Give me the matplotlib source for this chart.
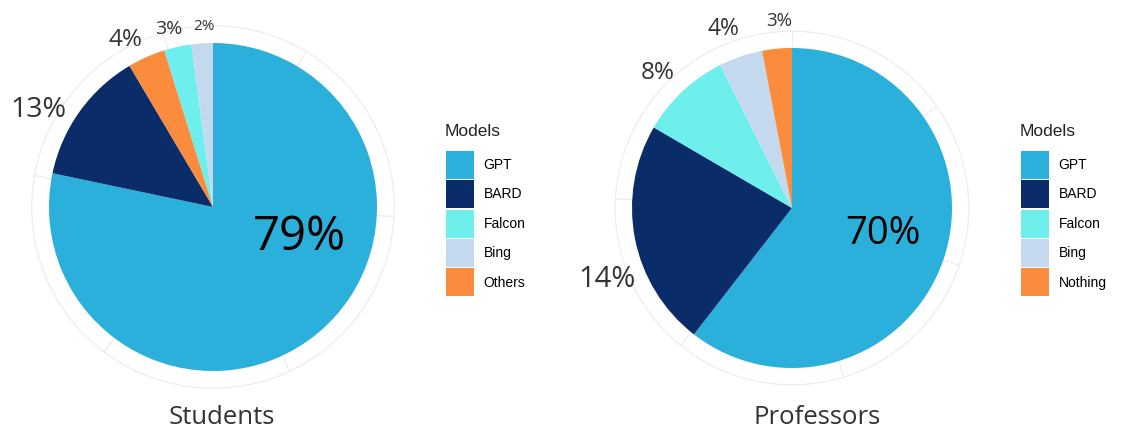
import matplotlib.pyplot as plt
import numpy as np
from matplotlib.patches import Patch, Circle

# Legend order and colours
models_students = ['GPT', 'BARD', 'Falcon', 'Bing', 'Others']
models_profs = ['GPT', 'BARD', 'Falcon', 'Bing', 'Nothing']
model_colors = ['#2BB0DC', '#0A2D69', '#6EEEEC', '#C5D9EE', '#FB8B3D']

# Slices clockwise from 12 o'clock (shares as drawn in the picture)
students_order = ['GPT', 'BARD', 'Others', 'Falcon', 'Bing']
students_share = [78.3, 13.2, 3.7, 2.7, 2.1]
students_labels = ['79%', '13%', '4%', '3%', '2%']

profs_order = ['GPT', 'BARD', 'Falcon', 'Bing', 'Nothing']
profs_share = [60.5, 22.9, 9.2, 4.4, 3.0]
profs_labels = ['70%', '14%', '8%', '4%', '3%']

W, H = 1121, 432
fig = plt.figure(figsize=(W / 100, H / 100), dpi=100)
fig.patch.set_facecolor('white')

LIM = 1.35


def add_pie(cx, cy, R, order, shares, labels, lab_pos, lab_sizes, grid_angles,
            legend_names, legend_x, title, title_x):
    size = 2 * LIM * R
    ax = fig.add_axes([(cx - size / 2) / W, (H - cy - size / 2) / H, size / W, size / H])
    cmap = dict(zip(legend_names, model_colors))
    ax.pie(shares, colors=[cmap[m] for m in order], startangle=90,
           counterclock=False, radius=1.0, wedgeprops=dict(linewidth=0))
    ax.set_xlim(-LIM, LIM)
    ax.set_ylim(-LIM, LIM)
    ax.axis('off')
    # faint polar grid outside the pie
    ax.add_patch(Circle((0, 0), 1.105, fill=False, ec='#ededed', lw=0.9, zorder=0))
    for a in np.radians(grid_angles):
        ax.plot([np.sin(a), 1.105 * np.sin(a)], [np.cos(a), 1.105 * np.cos(a)],
                color='#ededed', lw=0.9, zorder=0)
    for lab, (ang, r), fs in zip(labels, lab_pos, lab_sizes):
        a = np.radians(ang)
        col = 'black' if r < 1 else '#333333'
        ax.text(r * np.sin(a), r * np.cos(a), lab, ha='center', va='center',
                fontsize=fs, family='Open Sans', color=col)
    # legend
    fig.text(legend_x / W, 1 - 132 / H, 'Models', family='Liberation Sans',
             fontsize=12.5, color='#222222', ha='left', va='center')
    handles = [Patch(facecolor=c, edgecolor='none') for c in model_colors]
    fig.legend(handles, legend_names, loc='upper left',
               bbox_to_anchor=((legend_x + 1) / W, 1 - 151 / H),
               frameon=False, borderpad=0, borderaxespad=0,
               handlelength=2.0, handleheight=2.72, labelspacing=0.1,
               handletextpad=0.7,
               prop={'family': 'Liberation Sans', 'size': 10})
    fig.text(title_x / W, 1 - 418 / H, title, family='Open Sans', fontsize=18.5,
             color='#333333', ha='center', va='center')


add_pie(213, 207, 164, students_order, students_share, students_labels,
        [(109, 0.56), (299, 1.22), (332.5, 1.15), (346, 1.12), (357, 1.10)],
        [34, 20.5, 17.5, 14, 11],
        [31, 93, 155, 217, 280, 344],
        models_students, 445, 'Students', 222)

add_pie(792, 208, 160, profs_order, profs_share, profs_labels,
        [(106, 0.59), (249, 1.24), (315, 1.19), (339, 1.2), (356, 1.17)],
        [27.5, 21, 17.5, 16.5, 13.5],
        [0, 55, 109, 163, 219, 273],
        models_profs, 1020, 'Professors', 817)

fig.savefig('out.png', dpi=100)
